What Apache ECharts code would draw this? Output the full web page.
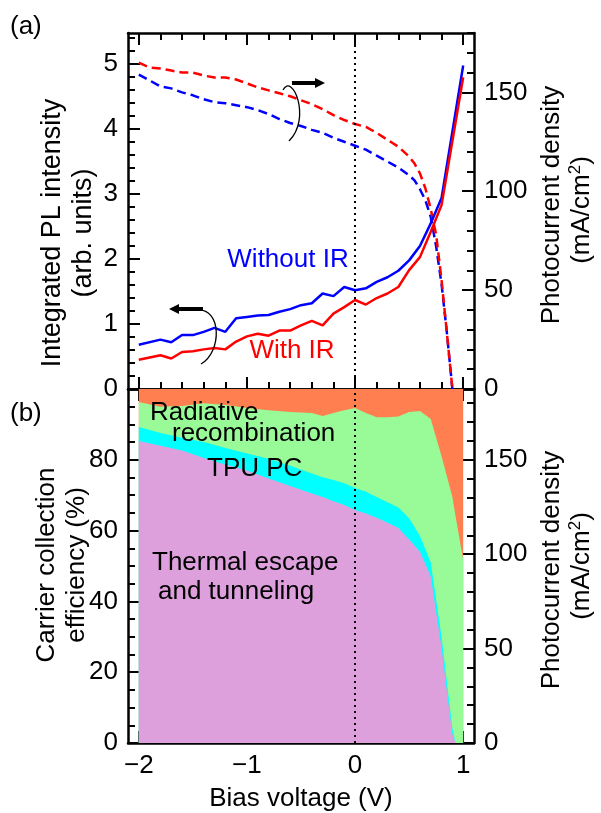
<!DOCTYPE html>
<html>
<head>
<meta charset="utf-8">
<title>PL intensity and carrier collection efficiency</title>
<script src="https://cdn.jsdelivr.net/npm/echarts@6/dist/echarts.min.js"></script>
<style>
  html, body { margin: 0; padding: 0; background: #fff; }
  #chart { width: 601px; height: 813px; }
</style>
</head>
<body>
<div id="chart"></div>
<script>
// ---- panel (a): integrated PL (solid, left axis) ----
const voltsPL = [-2.0, -1.8, -1.7, -1.6, -1.5, -1.4, -1.3, -1.2, -1.1, -1.0, -0.9, -0.8, -0.7, -0.6, -0.5,
  -0.4, -0.3, -0.2, -0.1, 0, 0.1, 0.2, 0.3, 0.4, 0.5, 0.6, 0.7, 0.8, 1.0]
const plWithoutIR = [0.68, 0.76, 0.72, 0.83, 0.83, 0.88, 0.94, 0.88, 1.09, 1.11, 1.13, 1.14, 1.19, 1.23, 1.29,
  1.32, 1.47, 1.43, 1.57, 1.52, 1.55, 1.65, 1.72, 1.82, 1.98, 2.2, 2.55, 2.94, 4.98]
const plWithIR = [0.45, 0.52, 0.47, 0.57, 0.58, 0.61, 0.63, 0.61, 0.73, 0.81, 0.85, 0.82, 0.9, 0.9, 0.98,
  1.05, 0.98, 1.16, 1.26, 1.37, 1.3, 1.4, 1.47, 1.57, 1.83, 2.03, 2.42, 2.83, 4.8]

// ---- panel (a): photocurrent density (dashed, right axis, mA/cm2) ----
const voltsPC = [-2.0, -1.9, -1.8, -1.7, -1.6, -1.5, -1.4, -1.3, -1.2, -1.1, -1.0, -0.9, -0.8, -0.7, -0.6, -0.5,
  -0.4, -0.3, -0.2, -0.1, 0, 0.1, 0.2, 0.3, 0.4, 0.5, 0.55, 0.6, 0.65, 0.7, 0.75, 0.8, 0.85, 0.9]
const pcWithoutIR = [159, 156, 153, 152, 150, 148.5, 146.5, 145, 144.5, 143.5, 142.5, 141, 139, 136.5, 134.5, 133,
  131, 129.5, 127, 125, 123, 121, 118, 115, 112, 108, 105.5, 101, 95.5, 87, 72, 53, 28, 0]
const pcWithIR = [165, 162.5, 162, 161, 160, 160, 158.5, 157.5, 157.5, 156.5, 154.5, 152.5, 151, 149.5, 148, 146,
  144, 141.5, 138.5, 136, 134, 132.5, 129.5, 126, 122.5, 117.5, 114, 109, 101.5, 91, 78, 55, 28, 0]

// ---- panel (b): upper edges of the stacked efficiency areas (%) ----
const voltsEff = [-2.0, -1.8, -1.6, -1.4, -1.2, -1.0, -0.8, -0.6, -0.4, -0.3, -0.2, -0.1, 0, 0.1, 0.2, 0.3,
  0.4, 0.5, 0.6, 0.7, 0.8, 0.85, 0.9, 0.93, 1.0]
const thermalTop = [85.3, 84, 82.6, 80.5, 78.7, 77, 74.7, 72.6, 70.5, 69.5, 68.3, 67.2, 65.8, 64.8, 63.6, 62.2,
  60.7, 57.5, 54, 47, 27, 14.5, 2.5, 0, 0]
const tpuTop = [89.3, 87.6, 86.2, 85, 83.3, 81.8, 80.3, 78.3, 76.1, 75.1, 74.3, 73.4, 72, 71, 69.5, 68,
  66.5, 63.5, 58.5, 51, 30, 17, 4, 0, 0]
const radiativeTop = [96.3, 95, 95.2, 96, 95.5, 94.6, 94, 93.5, 93.2, 92.4, 93.2, 94, 94.6, 93.2, 92, 92,
  92.2, 93.5, 93.8, 91.5, 81, 75.3, 69.5, 64, 51.7]
const totalTop = 100

// ---- ticks ----
const xMajor = [-2, -1, 0, 1]
const xMinor = [-1.8, -1.6, -1.4, -1.2, -0.8, -0.6, -0.4, -0.2, 0.2, 0.4, 0.6, 0.8]
const plMajor = [0, 1, 2, 3, 4, 5]
const pcMajor = [0, 50, 100, 150]
const effMajor = [0, 20, 40, 60, 80, 100]
const effLabels = [0, 20, 40, 60, 80]

const steps = (from, to, step, skip) => {
  const out = []
  for (let v = from; v <= to + 1e-9; v += step) {
    const r = Math.round(v * 100) / 100
    if (Math.abs(r / skip - Math.round(r / skip)) > 1e-6) out.push(r)
  }
  return out
}
const plMinor = steps(0, 5.4, 0.2, 1)
const pcMinor = steps(0, 180, 10, 50)
const effMinor = steps(0, 100, 5, 20)

const font = '"Liberation Sans", Arial, Helvetica, sans-serif'
const black = '#000'

// one axis per tick length; the ones carrying the frame line also carry labels
const axis = (gridIndex, position, min, max, ticks, len, labels, line) => ({
  type: 'value',
  gridIndex,
  position,
  min,
  max,
  axisLine: { show: line, onZero: false, lineStyle: { color: black, width: 2.5 } },
  axisTick: { show: true, inside: true, length: len, customValues: ticks, lineStyle: { color: black, width: 2 } },
  axisLabel: labels
    ? {
        show: true,
        customValues: labels,
        color: black,
        fontSize: 26,
        fontFamily: font,
        margin: 10,
        formatter: v => String(v).replace('-', '\u2212')
      }
    : { show: false },
  splitLine: { show: false }
})

const xAxes = []
const yAxes = []
for (const g of [0, 1]) {
  xAxes.push(axis(g, 'bottom', -2.1, 1.1, xMajor, 12, g === 1 ? xMajor : null, true))
  xAxes.push(axis(g, 'bottom', -2.1, 1.1, xMinor, 7, null, false))
  xAxes.push(axis(g, 'top', -2.1, 1.1, xMajor, 12, null, true))
  xAxes.push(axis(g, 'top', -2.1, 1.1, xMinor, 7, null, false))
}
// grid 0
yAxes.push(axis(0, 'left', 0, 5.48, plMajor, 12, plMajor, true))
yAxes.push(axis(0, 'left', 0, 5.48, plMinor, 7, null, false))
yAxes.push(axis(0, 'right', 0, 180, pcMajor, 12, pcMajor, true))
yAxes.push(axis(0, 'right', 0, 180, pcMinor, 7, null, false))
// grid 1
yAxes.push(axis(1, 'left', 0, 100, effMajor, 12, effLabels, true))
yAxes.push(axis(1, 'left', 0, 100, effMinor, 7, null, false))
yAxes.push(axis(1, 'right', 0, 187.5, pcMajor, 12, pcMajor, true))
yAxes.push(axis(1, 'right', 0, 187.5, pcMinor, 7, null, false))

const zip = (xs, ys) => xs.map((x, i) => [x, ys[i]])

const zeroLine = {
  silent: true,
  symbol: 'none',
  label: { show: false },
  lineStyle: { type: [2, 4], color: black, width: 2 },
  data: [{ xAxis: 0 }]
}

const lineSeries = (name, xs, ys, color, dashed, yAxisIndex) => ({
  name,
  type: 'line',
  xAxisIndex: 0,
  yAxisIndex,
  data: zip(xs, ys),
  showSymbol: false,
  lineStyle: { color, width: 2.5, type: dashed ? [9, 5] : 'solid' }
})

const areaSeries = (name, ys, color) => ({
  name,
  type: 'line',
  xAxisIndex: 4,
  yAxisIndex: 4,
  data: zip(voltsEff, ys),
  showSymbol: false,
  lineStyle: { width: 0 },
  areaStyle: { color, opacity: 1, origin: 'start' }
})

const text = (str, x, y, opts = {}) => ({
  type: 'text',
  x,
  y,
  z: 100,
  rotation: opts.rotation || 0,
  style: {
    text: str,
    fill: opts.color || black,
    font: `${opts.size || 26}px ${font}`,
    align: opts.align || 'left',
    verticalAlign: 'middle',
    textAlign: opts.align || 'left',
    textVerticalAlign: 'middle',
    rich: opts.rich
  }
})

const unitRich = {
  n: { fontSize: 26, fontFamily: font, lineHeight: 30, fill: black },
  s: { fontSize: 17, fontFamily: font, verticalAlign: 'top', lineHeight: 30, fill: black }
}
const unitText = '{n|(mA/cm}{s|2}{n|)}'
const up = Math.PI / 2

const chart = echarts.init(document.getElementById('chart'))

const option = {
  animation: false,
  backgroundColor: '#fff',
  grid: [
    { left: 128, top: 33, width: 346, height: 356 },
    { left: 128, top: 389, width: 346, height: 354 }
  ],
  xAxis: xAxes,
  yAxis: yAxes,
  series: [
    lineSeries('PC without IR', voltsPC, pcWithoutIR, '#0000ff', true, 2),
    lineSeries('PC with IR', voltsPC, pcWithIR, '#ff0000', true, 2),
    { ...lineSeries('PL without IR', voltsPL, plWithoutIR, '#0000ff', false, 0), markLine: zeroLine },
    lineSeries('PL with IR', voltsPL, plWithIR, '#ff0000', false, 0),
    areaSeries('Loss', voltsEff.map(() => totalTop), '#ff7f50'),
    areaSeries('Radiative recombination', radiativeTop, '#98fb98'),
    areaSeries('TPU PC', tpuTop, '#00ffff'),
    { ...areaSeries('Thermal escape and tunneling', thermalTop, '#dda0dd'), markLine: zeroLine }
  ],
  graphic: {
    elements: [
      text('(a)', 10, 27),
      text('(b)', 10, 414),
      text('Without IR', 288, 260, { color: '#0000ff', align: 'center' }),
      text('With IR', 292, 351, { color: '#ff0000', align: 'center' }),
      text('Radiative', 150, 413),
      text('recombination', 172, 434),
      text('TPU PC', 207, 469),
      text('Thermal escape', 152, 563),
      text('and tunneling', 158, 592),
      text('Bias voltage (V)', 301, 799, { align: 'center' }),
      text('Integrated PL intensity', 53, 233, { align: 'center', rotation: up, size: 27 }),
      text('(arb. units)', 84, 233, { align: 'center', rotation: up, size: 27 }),
      text('Photocurrent density', 552, 205, { align: 'center', rotation: up }),
      text(unitText, 582, 210, { align: 'center', rotation: up, rich: unitRich }),
      text('Carrier collection', 47, 565, { align: 'center', rotation: up }),
      text('efficiency (%)', 77, 565, { align: 'center', rotation: up }),
      text('Photocurrent density', 552, 570, { align: 'center', rotation: up }),
      text(unitText, 582, 566, { align: 'center', rotation: up, rich: unitRich }),
      // arrow pointing to the right axis
      { type: 'line', z: 100, shape: { x1: 292, y1: 83, x2: 317, y2: 83 }, style: { stroke: black, lineWidth: 4 } },
      { type: 'polygon', z: 100, shape: { points: [[315, 78], [325, 83], [315, 88]] }, style: { fill: black } },
      {
        type: 'bezierCurve', z: 100,
        shape: { x1: 283, y1: 90, cpx1: 292, cpy1: 72, cpx2: 312, cpy2: 118, x2: 289, y2: 141 },
        style: { stroke: black, lineWidth: 1.3, fill: null }
      },
      // arrow pointing to the left axis
      { type: 'line', z: 100, shape: { x1: 177, y1: 309, x2: 203, y2: 309 }, style: { stroke: black, lineWidth: 4 } },
      { type: 'polygon', z: 100, shape: { points: [[179, 304], [169, 309], [179, 314]] }, style: { fill: black } },
      {
        type: 'bezierCurve', z: 100,
        shape: { x1: 197, y1: 310, cpx1: 222, cpy1: 308, cpx2: 222, cpy2: 352, x2: 201, y2: 364 },
        style: { stroke: black, lineWidth: 1.3, fill: null }
      }
    ]
  }
}

chart.setOption(option)
</script>
</body>
</html>
